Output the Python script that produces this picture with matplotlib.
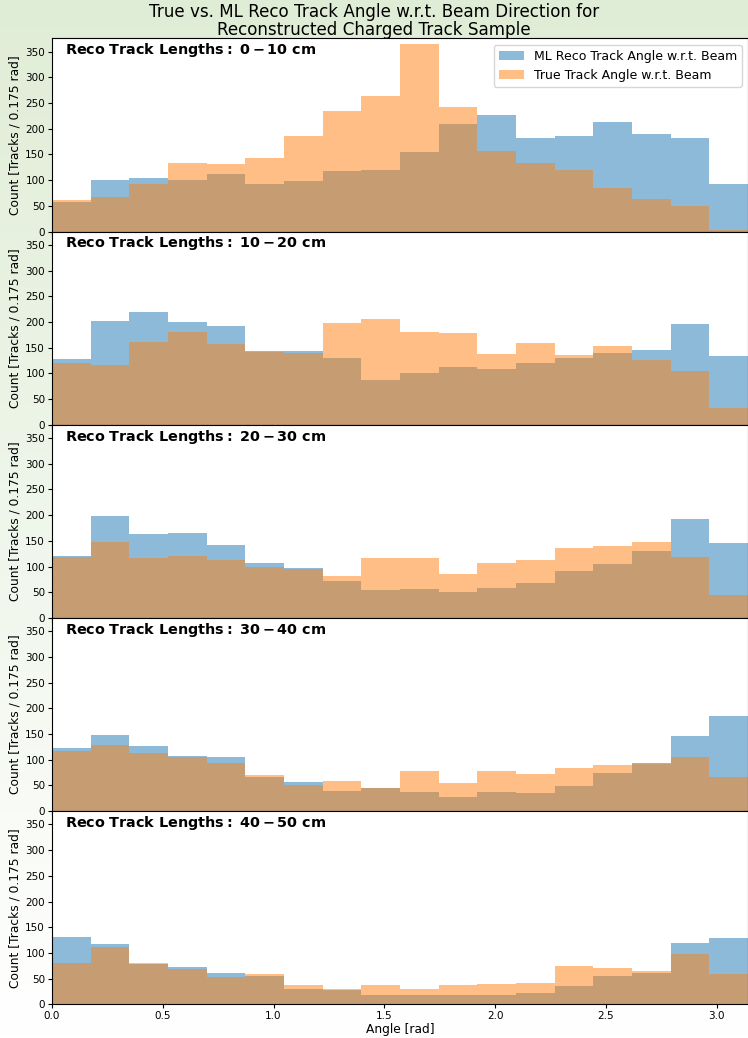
import numpy as np
import matplotlib
matplotlib.use("Agg")
import matplotlib.pyplot as plt
from matplotlib.colors import LinearSegmentedColormap

# 18 bins of pi/18 (~0.175 rad) from 0 to pi
bin_edges = np.linspace(0, np.pi, 19)
bin_centers = 0.5 * (bin_edges[:-1] + bin_edges[1:])

length_bins = ["0-10", "10-20", "20-30", "30-40", "40-50"]

# ML reco track angle counts per length bin
reco_0_10 = [57, 100, 104, 100, 111, 92, 99, 117, 120, 154, 210, 227, 181, 186, 213, 190, 181, 92]
reco_10_20 = [127, 201, 220, 199, 192, 144, 143, 130, 87, 100, 113, 108, 120, 129, 139, 145, 196, 134]
reco_20_30 = [121, 198, 163, 165, 141, 106, 97, 71, 55, 57, 50, 59, 68, 92, 105, 131, 192, 146]
reco_30_40 = [123, 148, 127, 108, 105, 66, 57, 40, 44, 37, 28, 38, 35, 49, 75, 94, 146, 185]
reco_40_50 = [131, 118, 78, 73, 61, 56, 30, 28, 19, 18, 18, 18, 22, 36, 56, 61, 119, 129]

# true track angle counts per length bin
true_0_10 = [61, 67, 93, 134, 132, 144, 186, 234, 264, 365, 242, 156, 134, 119, 85, 64, 49, 3]
true_10_20 = [120, 117, 160, 180, 158, 142, 139, 198, 205, 181, 179, 138, 159, 135, 153, 125, 104, 32]
true_20_30 = [118, 148, 117, 121, 113, 99, 95, 81, 116, 116, 86, 106, 113, 137, 140, 148, 119, 44]
true_30_40 = [117, 128, 114, 105, 94, 70, 50, 59, 45, 78, 55, 79, 73, 84, 90, 92, 105, 67]
true_40_50 = [81, 112, 80, 68, 53, 58, 38, 29, 37, 30, 37, 40, 42, 75, 71, 64, 98, 59]

reco_counts = [reco_0_10, reco_10_20, reco_20_30, reco_30_40, reco_40_50]
true_counts = [true_0_10, true_10_20, true_20_30, true_30_40, true_40_50]

fig = plt.figure(figsize=(7.48, 10.38), dpi=100)

# light green background fading to white
bg = fig.add_axes([0, 0, 1, 1], zorder=-10)
cmap = LinearSegmentedColormap.from_list("bg", ["#e0edd6", "#ffffff"])
bg.imshow(np.linspace(0, 1, 256).reshape(-1, 1), aspect="auto", cmap=cmap,
          extent=[0, 1, 0, 1], origin="upper")
bg.axis("off")

left, right = 52 / 748, 1.0
top, bottom = 1 - 38.3 / 1038, 1 - 1004.3 / 1038
panel_h = (top - bottom) / 5

axes = []
for i in range(5):
    y0 = top - (i + 1) * panel_h
    ax = fig.add_axes([left, y0, right - left, panel_h],
                      sharex=axes[0] if axes else None)
    axes.append(ax)

for i, ax in enumerate(axes):
    ax.set_facecolor("white")
    ax.hist(bin_centers, bins=bin_edges, weights=reco_counts[i], alpha=0.5,
            label="ML Reco Track Angle w.r.t. Beam")
    ax.hist(bin_centers, bins=bin_edges, weights=true_counts[i], alpha=0.5,
            label="True Track Angle w.r.t. Beam")
    lo, hi = length_bins[i].split("-")
    ax.text(0.019, 0.985, r"$\bf{Reco\ Track\ Lengths:\ %s-%s\ cm}$" % (lo, hi),
            transform=ax.transAxes, ha="left", va="top", fontsize=10.4)
    ax.set_xlim(0, np.pi)
    ax.set_ylim(0, 376)
    ax.set_yticks(np.arange(0, 351, 50))
    ax.tick_params(labelsize=7.5, length=3, pad=2)
    ax.set_ylabel("Count [Tracks / 0.175 rad]", fontsize=8.8, labelpad=3)
    if i < 4:
        ax.tick_params(labelbottom=False)

axes[0].legend(loc="upper right", fontsize=9)
axes[-1].set_xlabel("Angle [rad]", fontsize=8.8, labelpad=1)

fig.text(0.5, 1 - 21 / 1038, "True vs. ML Reco Track Angle w.r.t. Beam Direction for\nReconstructed Charged Track Sample",
         ha="center", va="center", fontsize=12.1, linespacing=0.95)

fig.savefig("out.png", dpi=100, facecolor=fig.get_facecolor())
